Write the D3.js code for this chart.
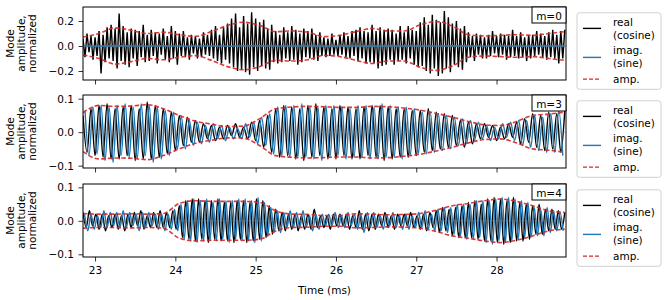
<!DOCTYPE html>
<html>
<head>
<meta charset="utf-8">
<script src="https://cdn.jsdelivr.net/npm/d3@7"></script>
<style>
body { margin: 0; background: #fff; }
</style>
</head>
<body>
<svg id="svg" width="668" height="300"></svg>
<script>
var font = "DejaVu Sans";
var fontSize = "10.5px";

// axis setup
var tStart = 22.85, tEnd = 28.865;
var xTicks = [23, 24, 25, 26, 27, 28];
var modeNames = ["m=0", "m=3", "m=4"];
var yTicksM0 = [-0.2, 0.0, 0.2];
var yTicksM = [-0.1, 0.0, 0.1];
var yDomains = [[-0.272, 0.312], [-0.107, 0.111], [-0.108, 0.110]];
var legendLabels = [["real", "(cosine)"], ["imag.", "(sine)"], ["amp."]];

// amplitude envelopes, one value every 0.2 ms from 22.85
var ampStep = 0.2;
var m0Amp = [0.072,0.10,0.145,0.125,0.10,0.11,0.09,0.077,0.115,0.165,0.19,0.165,0.115,0.12,0.11,0.075,0.085,0.115,0.14,0.12,0.12,0.17,0.195,0.16,0.09,0.08,0.085,0.09,0.085,0.10,0.115];
var m3Amp = [0.058,0.08,0.077,0.078,0.082,0.07,0.05,0.033,0.024,0.017,0.018,0.04,0.07,0.075,0.077,0.076,0.074,0.074,0.077,0.076,0.072,0.066,0.056,0.045,0.032,0.022,0.02,0.032,0.05,0.054,0.06];
var m4Amp = [0.022,0.02,0.02,0.021,0.02,0.022,0.052,0.06,0.058,0.058,0.058,0.055,0.03,0.02,0.019,0.016,0.016,0.021,0.02,0.018,0.019,0.022,0.032,0.045,0.052,0.06,0.065,0.058,0.045,0.03,0.025];

// m=0 mode
var m0Step = 0.025;
var m0Real = [
 .06,-.09,.10,-.05,.08,-.11,.07,-.08,
 .12,-.22,.09,-.13,.15,-.10,.17,-.12,
 .14,-.18,.26,-.12,.16,-.15,.11,-.17,
 .14,-.10,.13,-.16,.12,-.09,.17,-.13,
 .09,-.12,.13,-.08,.11,-.14,.10,-.07,
 .14,-.11,.08,-.13,.16,-.10,.12,-.15,
 .10,-.08,.12,-.09,.07,-.11,.09,-.06,
 .08,-.10,.06,-.09,.11,-.07,.09,-.08,
 .13,-.10,.16,-.12,.09,-.14,.15,-.11,
 .18,-.14,.22,-.17,.26,-.20,.15,-.19,
 .24,-.21,.18,-.23,.27,-.17,.22,-.20,
 .19,-.16,.21,-.18,.14,-.19,.17,-.13,
 .12,-.14,.09,-.13,.15,-.10,.11,-.12,
 .16,-.11,.13,-.15,.10,-.13,.14,-.09,
 .12,-.10,.14,-.11,.09,-.12,.11,-.08,
 .07,-.09,.06,-.08,.10,-.07,.05,-.08,
 .09,-.07,.11,-.09,.08,-.10,.12,-.08,
 .13,-.12,.15,-.10,.12,-.14,.11,-.13,
 .17,-.14,.12,-.18,.15,-.16,.13,-.15,
 .14,-.11,.13,-.15,.10,-.12,.16,-.11,
 .11,-.14,.16,-.10,.13,-.15,.12,-.17,
 .19,-.16,.23,-.20,.17,-.22,.25,-.18,
 .21,-.24,.19,-.22,.28,-.18,.23,-.21,
 .18,-.15,.20,-.17,.14,-.19,.16,-.13,
 .11,-.09,.08,-.12,.10,-.07,.09,-.10,
 .07,-.10,.09,-.08,.12,-.06,.08,-.09,
 .10,-.07,.09,-.11,.08,-.09,.13,-.08,
 .08,-.10,.11,-.09,.07,-.12,.09,-.10,
 .09,-.08,.12,-.07,.10,-.09,.08,-.11,
 .11,-.09,.13,-.10,.09,-.14,.12,-.10,
 .13];
var m0ImagStep = 0.2;
var m0Imag = [0.001,-0.002,0.002,0,-0.001,0.002,-0.001,0,0.001,-0.002,0.001,0.002,-0.001,0,0.001,-0.001,0.002,0,-0.002,0.001,0,0.001,-0.001,0.002,0,-0.001,0.001,0,-0.002,0.001,0];

// m=3 mode (imag samples sit half a step later)
var m3Step = 0.05;
var m3Real = [
 .05,-.06,.07,-.07, .08,-.075,.085,-.08, .07,-.08,.075,-.07, .08,-.085,.07,-.08,
 .09,-.08,.08,-.075, .07,-.065,.06,-.055, .05,-.04,.045,-.03, .035,-.03,.025,-.02,
 .02,-.025,.015,-.02, .02,-.01,.025,-.015, .015,-.02,.03,-.025, .035,-.045,.05,-.06,
 .07,-.075,.08,-.07, .075,-.08,.07,-.085, .08,-.075,.085,-.07, .075,-.08,.07,-.08,
 .08,-.07,.075,-.08, .07,-.08,.075,-.07, .08,-.075,.08,-.085, .075,-.08,.07,-.075,
 .07,-.075,.065,-.07, .065,-.06,.07,-.055, .06,-.05,.055,-.045, .05,-.04,.035,-.045,
 .03,-.035,.025,-.02, .025,-.015,.02,-.025, .015,-.02,.025,-.015, .03,-.035,.04,-.03,
 .055,-.045,.05,-.055, .06,-.05,.055,-.06, .065];
var m3Imag = [
 .065,-.07,.075,-.065, .08,-.085,.075,-.09, .08,-.07,.085,-.075, .075,-.08,.085,-.07,
 .08,-.09,.075,-.08, .065,-.07,.06,-.05, .045,-.05,.035,-.04, .03,-.035,.02,-.03,
 .025,-.02,.02,-.025, .015,-.02,.01,-.02, .025,-.015,.03,-.035, .045,-.04,.055,-.065,
 .075,-.07,.08,-.075, .08,-.075,.085,-.075, .075,-.08,.075,-.085, .08,-.075,.08,-.07,
 .075,-.08,.07,-.075, .08,-.075,.08,-.08, .075,-.08,.085,-.075, .08,-.075,.075,-.08,
 .075,-.07,.07,-.065, .06,-.065,.06,-.06, .055,-.055,.05,-.05, .045,-.04,.04,-.035,
 .035,-.025,.03,-.02, .02,-.025,.015,-.02, .025,-.015,.03,-.025, .035,-.04,.035,-.045,
 .05,-.055,.045,-.06, .055,-.06,.065,-.07];

// m=4 mode
var m4Step = 0.04;
var m4Real = [
 .025,-.02,.03,-.015,.02, -.025,.02,-.03,.015,-.02, .02,-.025,.015,-.03,.02,
 -.02,.025,-.015,.03,-.025, .015,-.02,.025,-.02,.03, -.02,.025,-.02,.03,-.025,
 .045,-.05,.06,-.055,.065, -.06,.065,-.055,.06,-.065, .06,-.055,.065,-.06,.055,
 -.06,.055,-.065,.06,-.055, .06,-.065,.055,-.06,.065, -.055,.06,-.05,.045,-.04,
 .035,-.03,.025,-.03,.02, -.025,.02,-.03,.015,-.025, .02,-.025,.035,-.02,.015,
 -.02,.015,-.025,.02,-.015, .02,-.015,.02,-.025,.015, -.02,.03,-.025,.02,-.03,
 .02,-.025,.02,-.015,.025, -.02,.015,-.025,.02,-.015, .02,-.015,.025,-.02,.015,
 -.025,.02,-.03,.025,-.02, .03,-.035,.04,-.03,.035, -.045,.04,-.05,.045,-.05,
 .055,-.05,.06,-.055,.05, -.06,.065,-.06,.07,-.065, .065,-.07,.06,-.065,.07,
 -.06,.055,-.06,.05,-.055, .045,-.04,.05,-.04,.035, -.03,.035,-.025,.03,-.025,
 .025];
var m4Imag = [
 .02,-.03,.02,-.025,.015, -.02,.03,-.02,.025,-.015, .025,-.02,.03,-.02,.025,
 -.015,.02,-.03,.025,-.02, .025,-.015,.02,-.025,.02, -.03,.02,-.025,.035,-.03,
 .05,-.055,.06,-.06,.065, -.065,.06,-.06,.065,-.06, .055,-.06,.065,-.055,.06,
 -.065,.06,-.055,.065,-.06, .065,-.06,.06,-.065,.07, -.06,.055,-.045,.04,-.035,
 .03,-.035,.025,-.02,.03, -.02,.025,-.02,.03,-.02, .015,-.03,.02,-.025,.02,
 -.015,.02,-.015,.025,-.02, .015,-.02,.025,-.015,.02, -.025,.02,-.035,.025,-.02,
 .025,-.02,.015,-.025,.02, -.015,.025,-.02,.015,-.025, .02,-.025,.015,-.02,.025,
 -.02,.03,-.025,.02,-.03, .035,-.03,.04,-.035,.04, -.04,.05,-.045,.05,-.055,
 .05,-.055,.06,-.05,.06, -.065,.06,-.07,.065,-.06, .07,-.065,.07,-.06,.065,
 -.055,.06,-.05,.055,-.05, .04,-.045,.035,-.045,.04, -.035,.03,-.03,.025,-.03];

var panels = [
    {name: modeNames[0], real: m0Real, realStep: m0Step, imag: m0Imag, imagStart: tStart, imagStep: m0ImagStep, amp: m0Amp, yTicks: yTicksM0, curve: d3.curveLinear},
    {name: modeNames[1], real: m3Real, realStep: m3Step, imag: m3Imag, imagStart: tStart + m3Step / 2, imagStep: m3Step, amp: m3Amp, yTicks: yTicksM, curve: d3.curveCatmullRom},
    {name: modeNames[2], real: m4Real, realStep: m4Step, imag: m4Imag, imagStart: tStart + m4Step / 2, imagStep: m4Step, amp: m4Amp, yTicks: yTicksM, curve: d3.curveCatmullRom}
];

var left = 83, right = 566, panelH = 73;
var panelTop = [7, 95, 184];
var blue = "#1f77b4", red = "#d62728";

var svg = d3.select("#svg");
var x = d3.scaleLinear().domain([tStart, tEnd]).range([left, right]);

function toPoints(values, start, step) {
    return values.map(function (v, i) {
        return {t: start + i * step, v: v};
    });
}

function styleAxis(g) {
    g.select(".domain").remove();
    g.selectAll("line").attr("stroke", "#000").attr("stroke-width", 0.8);
    g.selectAll("text").attr("font-family", font).attr("font-size", fontSize).attr("fill", "#000");
}

panels.forEach(function (p, i) {
    var top = panelTop[i];
    var y = d3.scaleLinear().domain(yDomains[i]).range([top + panelH, top]);
    var g = svg.append("g");

    g.append("clipPath").attr("id", "clip" + i)
        .append("rect").attr("x", left).attr("y", top).attr("width", right - left).attr("height", panelH);
    var plot = g.append("g").attr("clip-path", "url(#clip" + i + ")");

    var line = d3.line()
        .x(function (d) { return x(d.t); })
        .y(function (d) { return y(d.v); })
        .curve(p.curve);

    plot.append("path")
        .attr("d", line(toPoints(p.real, tStart, p.realStep)))
        .attr("fill", "none").attr("stroke", "#000").attr("stroke-width", 1.4);
    plot.append("path")
        .attr("d", line(toPoints(p.imag, p.imagStart, p.imagStep)))
        .attr("fill", "none").attr("stroke", blue).attr("stroke-width", 1.4);

    var env = toPoints(p.amp, tStart, ampStep);
    var envLine = d3.line()
        .x(function (d) { return x(d.t); })
        .y(function (d) { return y(d.v); })
        .curve(d3.curveMonotoneX);
    [1, -1].forEach(function (s) {
        plot.append("path")
            .attr("d", envLine(env.map(function (d) { return {t: d.t, v: s * d.v}; })))
            .attr("fill", "none").attr("stroke", red).attr("stroke-width", 1.6)
            .attr("stroke-dasharray", "4.5,2.2").attr("opacity", 0.9);
    });

    // zero line
    plot.append("line")
        .attr("x1", left).attr("x2", right).attr("y1", y(0)).attr("y2", y(0))
        .attr("stroke", "#808080").attr("stroke-width", 1).attr("opacity", 0.5);

    // frame
    g.append("rect")
        .attr("x", left).attr("y", top).attr("width", right - left).attr("height", panelH)
        .attr("fill", "none").attr("stroke", "#000").attr("stroke-width", 1);

    var yAxis = g.append("g").attr("transform", "translate(" + left + ",0)")
        .call(d3.axisLeft(y).tickValues(p.yTicks).tickSize(4.5).tickPadding(4.5).tickFormat(d3.format(".1f")));
    styleAxis(yAxis);

    var xAxis = d3.axisBottom(x).tickValues(xTicks).tickSize(4.5).tickPadding(5).tickFormat(d3.format("d"));
    if (i < 2) xAxis.tickFormat("");
    var xg = g.append("g").attr("transform", "translate(0," + (top + panelH) + ")").call(xAxis);
    styleAxis(xg);

    // y label
    ["Mode", "amplitude,", "normalized"].forEach(function (s, j) {
        g.append("text")
            .attr("transform", "translate(" + (10 + j * 11) + "," + (top + panelH / 2) + ") rotate(-90)")
            .attr("text-anchor", "middle").attr("dominant-baseline", "central")
            .attr("font-family", font).attr("font-size", fontSize)
            .text(s);
    });

    // mode label box
    g.append("rect")
        .attr("x", right - 34).attr("y", top).attr("width", 34).attr("height", 16)
        .attr("fill", "#fff").attr("stroke", "#000").attr("stroke-width", 1);
    g.append("text")
        .attr("x", right - 17).attr("y", top + 8.5)
        .attr("text-anchor", "middle").attr("dominant-baseline", "central")
        .attr("font-family", font).attr("font-size", fontSize)
        .text(p.name);

    // legend
    var L = top + 5.8;
    g.append("rect")
        .attr("x", 577).attr("y", L).attr("width", 84).attr("height", 76.5).attr("rx", 2.5)
        .attr("fill", "#fff").attr("stroke", "#d0d0d0").attr("stroke-width", 1);
    var lineY = [L + 15.6, L + 44.6, L + 66.3];
    var textY = [[L + 8.8, L + 22.3], [L + 37.3, L + 50.3], [L + 66.3]];
    var cols = ["#000", blue, red];
    legendLabels.forEach(function (lab, k) {
        g.append("line")
            .attr("x1", 583).attr("x2", 601).attr("y1", lineY[k]).attr("y2", lineY[k])
            .attr("stroke", cols[k]).attr("stroke-width", 1.4)
            .attr("stroke-dasharray", k == 2 ? "4,2" : null);
        lab.forEach(function (s, m) {
            g.append("text")
                .attr("x", 613).attr("y", textY[k][m])
                .attr("dominant-baseline", "central")
                .attr("font-family", font).attr("font-size", fontSize)
                .text(s);
        });
    });
});

svg.append("text")
    .attr("x", (left + right) / 2).attr("y", 290)
    .attr("text-anchor", "middle").attr("dominant-baseline", "central")
    .attr("font-family", font).attr("font-size", fontSize)
    .text("Time (ms)");
</script>
</body>
</html>
